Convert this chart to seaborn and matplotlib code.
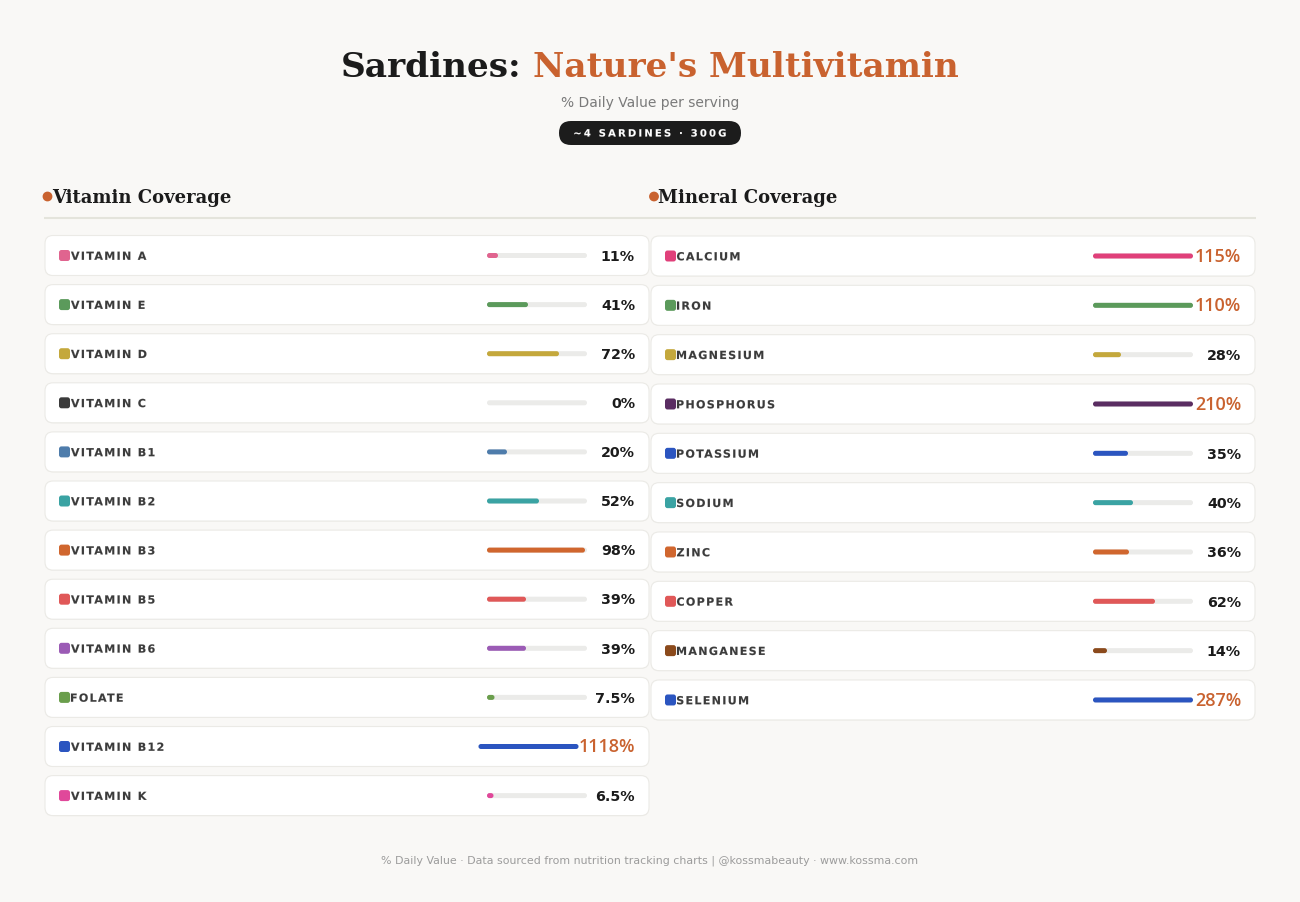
import numpy as np
import pandas as pd
import matplotlib
matplotlib.use("Agg")
import matplotlib.pyplot as plt
import matplotlib.transforms as mtransforms
from matplotlib.patches import FancyBboxPatch, Circle, PathPatch
from matplotlib.textpath import TextPath
from matplotlib.font_manager import FontProperties
import seaborn as sns

# ---------------- data ----------------
vit_names = ["VITAMIN A", "VITAMIN E", "VITAMIN D", "VITAMIN C", "VITAMIN B1", "VITAMIN B2",
             "VITAMIN B3", "VITAMIN B5", "VITAMIN B6", "FOLATE", "VITAMIN B12", "VITAMIN K"]
vit_values = [11, 41, 72, 0, 20, 52, 98, 39, 39, 7.5, 1118, 6.5]
vit_colors = ["#e0648f", "#5b9a5b", "#c4a83c", "#3a3a3a", "#4e7cab", "#3aa3a3",
              "#d0662e", "#e05858", "#9b5bb5", "#6a9e4c", "#2b55c0", "#e0489a"]

min_names = ["CALCIUM", "IRON", "MAGNESIUM", "PHOSPHORUS", "POTASSIUM", "SODIUM",
             "ZINC", "COPPER", "MANGANESE", "SELENIUM"]
min_values = [115, 110, 28, 210, 35, 40, 36, 62, 14, 287]
min_colors = ["#e0407a", "#5b9a5b", "#c4a83c", "#5a2d62", "#2b55c0", "#3aa3a3",
              "#d0662e", "#e05858", "#8b4a1c", "#2b55c0"]

TITLE_A = "Sardines:"
TITLE_B = "Nature's Multivitamin"
SUBTITLE = "% Daily Value per serving"
PILL = "~4 SARDINES · 300G"
FOOTER = "% Daily Value · Data sourced from nutrition tracking charts | @kossmabeauty · www.kossma.com"

# ---------------- style ----------------
BG = "#f9f8f6"
ORANGE = "#c9622f"
DARK = "#1b1b1b"
TRACK = "#ebebe9"
LABEL_C = "#3b3b3b"

sns.set_theme(style="white")
plt.rcParams["font.family"] = ["DejaVu Sans"]

W, H = 1300, 903
fig = plt.figure(figsize=(W / 100, H / 100), dpi=100, facecolor=BG)
bg = fig.add_axes([0, 0, 1, 1])
bg.set_xlim(0, W)
bg.set_ylim(H, 0)
bg.axis("off")
bg.set_zorder(0)
renderer = fig.canvas.get_renderer()


def text_w(s, **kw):
    t = bg.text(0, 0, s, **kw)
    w = t.get_window_extent(renderer).width
    t.remove()
    return w


def spaced_text(x, y, s, sp, size_pt, color, ha="left", weight="bold",
                family="DejaVu Sans", zorder=3, stroke=0.1):
    """Letter-spaced text drawn as glyph outlines (sp = extra px between letters)."""
    prop = FontProperties(family=family, weight=weight)
    size = size_pt * 100 / 72.0

    def ext(t):
        return TextPath((0, 0), t, size=size, prop=prop).get_extents()

    n = len(s)
    first = ext(s[0])
    full_x1 = ext(s).x1 + (n - 1) * sp
    if ha == "center":
        o = x - (first.x0 + full_x1) / 2
    elif ha == "right":
        o = x - full_x1
    else:
        o = x - first.x0
    for i, c in enumerate(s):
        if c.isspace():
            continue
        if i == 0:
            pos = 0.0
        else:
            pos = ext(s[:i + 1]).x1 - ext(c).x1 + i * sp
        path = TextPath((0, 0), c, size=size, prop=prop)
        tr = mtransforms.Affine2D().scale(1, -1).translate(o + pos, y) + bg.transData
        bg.add_patch(PathPatch(path, fc=color, ec=color, lw=stroke, transform=tr,
                               zorder=zorder, snap=False))


# ---------------- title block ----------------
tkw = dict(family="DejaVu Serif", weight="bold", fontsize=24.7)
w1 = text_w(TITLE_A, **tkw)
w2 = text_w(TITLE_B, **tkw)
gap = 12
x_start = W / 2 - (w1 + gap + w2) / 2
bg.text(x_start, 77, TITLE_A, color=DARK, ha="left", va="baseline", **tkw)
bg.text(x_start + w1 + gap, 77, TITLE_B, color=ORANGE, ha="left", va="baseline", **tkw)

bg.text(W / 2, 107.5, SUBTITLE, ha="center", va="baseline", fontsize=10, color="#7a7a7a")

bg.add_patch(FancyBboxPatch((559, 122), 182, 24, boxstyle="round,pad=0,rounding_size=12",
                            fc="#1c1c1c", ec="none", zorder=2))
spaced_text(W / 2, 137.5, PILL, 2.2, 7.2, "white", ha="center", zorder=3, stroke=0.1)

bg.text(W / 2, 864, FOOTER, ha="center", va="baseline", fontsize=7.9, color="#9c9c9c")

# divider under section headers
bg.plot([44, 1256], [218.5, 218.5], color="#e4e4dc", lw=1.5, solid_capstyle="butt", zorder=1)

# ---------------- panels ----------------
panels = [
    dict(title="Vitamin Coverage", names=vit_names, values=vit_values, colors=vit_colors,
         x0=45, x1=649, row0=256.5, pitch=49.1, track=487, vright=635, hx=52, dotx=47.5),
    dict(title="Mineral Coverage", names=min_names, values=min_values, colors=min_colors,
         x0=651, x1=1255, row0=257, pitch=49.33, track=1093, vright=1241, hx=658, dotx=654),
]


def fmt(v):
    return f"{v:g}%"


def round_bars(ax, pitch, offsets, r=2.5):
    aspect = 1.0 / pitch  # x: 1 px per unit, y: pitch px per unit
    for p in list(ax.patches):
        x, y, w, h = p.get_x(), p.get_y(), p.get_width(), p.get_height()
        fc = p.get_facecolor()
        z = p.get_zorder()
        p.remove()
        if w <= 0:
            continue
        row = int(round(y + h / 2))
        rr = min(r, w / 2)
        ax.add_patch(FancyBboxPatch((x + offsets[row], y), w, h,
                                    boxstyle=f"round,pad=0,rounding_size={rr}",
                                    mutation_aspect=aspect, fc=fc, ec="none", zorder=z))


for P in panels:
    names, values, colors = P["names"], P["values"], P["colors"]
    n = len(names)
    pitch = P["pitch"]

    # section header
    bg.add_patch(Circle((P["dotx"], 197.5), 4.2, color=ORANGE, zorder=2))
    bg.text(P["hx"], 203, P["title"], family="DejaVu Serif", weight="bold", fontsize=13,
            color=DARK, ha="left", va="baseline")

    slot = P["vright"] - (P["track"] + 100)
    offsets = []
    for i, (nm, v, c) in enumerate(zip(names, values, colors)):
        cy = P["row0"] + i * pitch
        # card shadow + card
        bg.add_patch(FancyBboxPatch((P["x0"], cy - 19.5), P["x1"] - P["x0"], 40,
                                    boxstyle="round,pad=0,rounding_size=8",
                                    fc="#efeeea", ec="none", zorder=1))
        bg.add_patch(FancyBboxPatch((P["x0"], cy - 20), P["x1"] - P["x0"], 40,
                                    boxstyle="round,pad=0,rounding_size=8",
                                    fc="white", ec="#ebeae6", lw=0.8, zorder=1.5))
        # colour square
        bg.add_patch(FancyBboxPatch((P["x0"] + 14, cy - 5.5), 11, 11,
                                    boxstyle="round,pad=0,rounding_size=2.5",
                                    fc=c, ec="none", zorder=2))
        spaced_text(P["x0"] + 26, cy + 4.3, nm, 1.3, 8, LABEL_C, zorder=3)
        # value
        lab = fmt(v)
        if v > 100:
            vkw = dict(family=["Open Sans", "Noto Sans", "DejaVu Sans"], weight="semibold",
                       fontsize=13, color=ORANGE)
            base = cy + 5
        else:
            vkw = dict(weight="bold", fontsize=10.3, color=DARK)
            base = cy + 4.3
        vw = text_w(lab, **vkw)
        bg.text(P["vright"], base, lab, ha="right", va="baseline", zorder=3, **vkw)
        offsets.append(-max(0.0, vw - slot))

    # progress bars (seaborn), track = 0..100 % mapped to 100 px
    axb = fig.add_axes([(P["track"] - 50) / W,
                        1 - (P["row0"] + (n - 0.5) * pitch) / H,
                        200 / W, n * pitch / H])
    df = pd.DataFrame({"nutrient": names, "dv": values})
    df["fill"] = df["dv"].clip(upper=100)
    df["track"] = 100.0
    bw = 5.0 / pitch
    sns.barplot(data=df, y="nutrient", x="track", color=TRACK, width=bw, ax=axb,
                orient="h", errorbar=None, saturation=1)
    sns.barplot(data=df, y="nutrient", x="fill", hue="nutrient", palette=colors, width=bw,
                ax=axb, orient="h", errorbar=None, saturation=1, legend=False)
    axb.set_xlim(-50, 150)
    axb.set_ylim(n - 0.5, -0.5)
    axb.axis("off")
    axb.patch.set_alpha(0)
    axb.set_zorder(2)
    round_bars(axb, pitch, offsets)

fig.savefig("out.png", dpi=100, facecolor=BG)
